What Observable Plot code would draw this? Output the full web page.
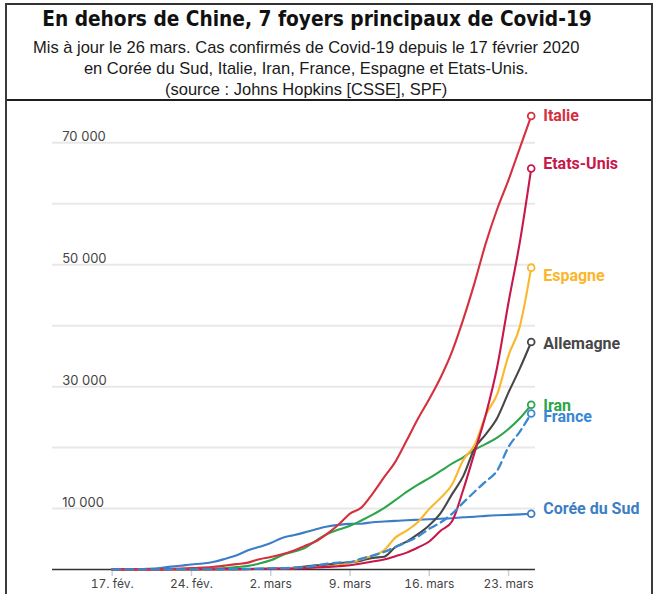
<!DOCTYPE html>
<html>
<head>
<meta charset="utf-8">
<script src="https://cdn.jsdelivr.net/npm/d3@7"></script>
<script src="https://cdn.jsdelivr.net/npm/@observablehq/plot@0.6"></script>
<style>
  html, body { margin: 0; padding: 0; background: #fff; }
  #frame { position: absolute; left: 5px; top: 3px; width: 648px; height: 591px; box-sizing: border-box;
           border-left: 2px solid #3a3a3a; border-right: 2px solid #3a3a3a; }
  #head { position: relative; height: 98px; box-sizing: border-box; border-top: 2px solid #333; border-bottom: 2px solid #1e1e1e; }
  .title { position: absolute; left: 0; width: 620px; top: 2px; text-align: center;
           font-family: "DejaVu Sans Condensed", "DejaVu Sans", sans-serif; font-stretch: condensed;
           font-weight: bold; font-size: 20.7px; line-height: 24px; color: #111; white-space: nowrap; }
  .sub { position: absolute; left: 0; width: 598px; top: 32px; text-align: center;
         font-family: "Liberation Sans", sans-serif;
         font-size: 17px; line-height: 21px; color: #1a1a1a; white-space: nowrap;
         transform: scaleX(0.97); transform-origin: 305px 0; }
  #chart svg { display: block; }
</style>
</head>
<body>
<div id="frame">
  <div id="head">
    <div class="title">En dehors de Chine, 7 foyers principaux de Covid-19</div>
    <div class="sub">Mis à jour le 26 mars. Cas confirmés de Covid-19 depuis le 17 février 2020<br>en Corée du Sud, Italie, Iran, France, Espagne et Etats-Unis.<br>(source : Johns Hopkins [CSSE], SPF)</div>
  </div>
  <div id="chart"></div>
</div>
<script>
// ---- Data (daily confirmed cases, 17 Feb -> 25 Mar 2020) ----
const firstDay = "2020-02-17";
const lastDay = "2020-03-25";

const countries = ["Italie", "Etats-Unis", "Espagne", "Allemagne", "Iran", "France", "Corée du Sud"];

const italie = [3,3,3,3,20,62,155,229,322,453,655,888,1128,
  1694,2036,2502,3089,3858,4636,5883,7375,9172,10149,12462,15113,17660,21157,24747,27980,31506,35713,41035,47021,53578,59138,63927,69176,74386];
const etatsUnis = [15,15,15,15,15,35,35,35,53,53,59,60,68,
  75,100,124,158,221,319,435,541,704,994,1301,1630,2183,2770,3613,4596,6344,7869,13085,19205,25473,33272,43847,53740,65778];
const espagne = [2,2,2,2,2,2,2,2,6,13,15,32,45,
  84,120,165,222,259,400,500,673,1073,1695,2277,3146,5232,6391,7798,9942,11748,13910,17963,20410,25374,28768,35136,39885,49515];
const allemagne = [16,16,16,16,16,16,16,16,17,27,46,48,79,
  130,159,196,262,482,670,799,1040,1176,1457,1908,2078,3675,4585,5795,7272,9257,12327,15320,19848,22213,24873,29056,32986,37323];
const iran = [0,0,2,5,18,28,43,61,95,139,245,388,593,
  978,1501,2336,2922,3513,4747,5823,6566,7161,8042,9000,10075,11364,12729,13938,14991,16169,17361,18407,19644,20610,21638,23049,24811,27017];
const france = [12,12,12,12,12,12,12,12,14,18,38,57,100,
  130,191,204,288,380,656,959,1136,1219,1794,2293,2876,3681,4496,5423,6683,7715,9124,10970,12758,14463,16243,20123,22622,25600];
const coree = [30,31,31,104,204,433,602,833,977,1261,1766,2337,3150,
  3736,4335,5186,5621,6088,6593,7041,7314,7478,7513,7755,7869,7979,8086,8162,8236,8320,8413,8565,8652,8799,8897,8961,9037,9137];

const seriesValues = [italie, etatsUnis, espagne, allemagne, iran, france, coree];

const xTickDates = ["2020-02-17", "2020-02-24", "2020-03-02", "2020-03-09", "2020-03-16", "2020-03-23"];
const xTickLabels = ["17. fév.", "24. fév.", "2. mars", "9. mars", "16. mars", "23. mars"];
const gridValues = [10000, 20000, 30000, 40000, 50000, 60000, 70000];
const yTickValues = [10000, 30000, 50000, 70000];
const yTickLabels = ["10 000", "30 000", "50 000", "70 000"];

// ---- Styling ----
const colors = ["#d5303e", "#c8174b", "#fbb62b", "#474747", "#2ca54a", "#3a88d2", "#3d7dc6"];
const labelNudge = {"Italie": 0, "Etats-Unis": -5, "Espagne": 8, "Allemagne": 2, "Iran": 1, "France": 3, "Corée du Sud": -5};

// ---- Build tidy table ----
const dates = d3.utcDay.range(new Date(firstDay), d3.utcDay.offset(new Date(lastDay), 1));
const tidy = [];
for (let i = countries.length - 1; i >= 0; i--) {
  seriesValues[i].forEach((v, j) => tidy.push({country: countries[i], date: dates[j], value: v}));
}
const lastPoints = countries.map((c, i) => ({country: c, date: dates[dates.length - 1], value: seriesValues[i][seriesValues[i].length - 1]}));
const xTicks = xTickDates.map(d => new Date(d));
const xLabelMap = new Map(xTicks.map((d, i) => [+d, xTickLabels[i]]));
const yLabelMap = new Map(yTickValues.map((v, i) => [v, yTickLabels[i]]));

const W = 644, H = 493;
const mLeft = 104.7, mRight = 120.3, mTop = 41.3, mBottom = 25;
const gridInsetL = -59.7, gridInsetR = -4.3;

const chart = Plot.plot({
  width: W,
  height: H,
  marginLeft: mLeft,
  marginRight: mRight,
  marginTop: mTop,
  marginBottom: mBottom,
  style: {background: "transparent", overflow: "visible"},
  x: {type: "utc", domain: [new Date(firstDay), new Date(lastDay)]},
  y: {domain: [0, 70000], axis: null},
  color: {domain: countries, range: colors},
  marks: [
    Plot.ruleY(gridValues, {stroke: "#e8e8e8", strokeWidth: 2, insetLeft: gridInsetL, insetRight: gridInsetR}),
    Plot.text(yTickValues, {y: d => d, text: d => yLabelMap.get(d), frameAnchor: "left", textAnchor: "start",
      dx: -50, dy: -5.5, fontSize: 13, fill: "#444", fontFamily: "Inter, 'DejaVu Sans', sans-serif"}),
    Plot.axisX({ticks: xTicks, tickFormat: d => xLabelMap.get(+d), tickSize: 7, tickPadding: 3,
      stroke: "#c6d2de", strokeWidth: 1.5, fill: "#444", fontSize: 12, fontFamily: "Inter, 'DejaVu Sans', sans-serif"}),
    Plot.ruleY([0], {stroke: "#333", strokeWidth: 1.3, insetLeft: gridInsetL, insetRight: gridInsetR}),
    Plot.lineY(tidy, {filter: d => d.country !== "France", x: "date", y: "value", z: "country", stroke: "country",
      strokeWidth: 2.1, curve: "monotone-x"}),
    Plot.lineY(tidy, {filter: d => d.country === "France", x: "date", y: "value", z: "country", stroke: "country",
      strokeWidth: 2.3, strokeDasharray: "8,5", curve: "monotone-x"}),
    Plot.dot(lastPoints, {x: "date", y: "value", stroke: "country", fill: "white", r: 3.4, strokeWidth: 1.8}),
    ...countries.map(c => Plot.text(lastPoints.filter(d => d.country === c), {
      x: "date", y: "value", text: "country", fill: "country", dx: 12, dy: labelNudge[c],
      textAnchor: "start", fontWeight: "bold", fontSize: 16, fontFamily: "Roboto, 'Open Sans', sans-serif"}))
  ]
});
document.getElementById("chart").appendChild(chart);
</script>
</body>
</html>
